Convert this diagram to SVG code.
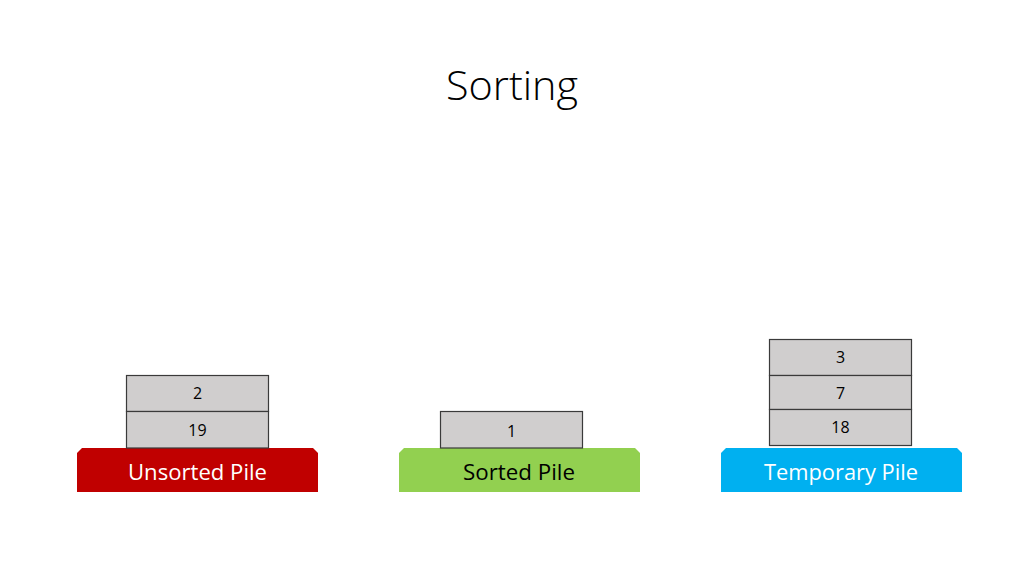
<svg xmlns="http://www.w3.org/2000/svg" width="1024" height="576" viewBox="0 0 1024 576">
<style>
.box{fill:#D0CECE;stroke:#3A3A3A;stroke-width:1.2}
.num{font-family:"Open Sans","Noto Sans",sans-serif;font-size:16px;fill:#000;text-anchor:middle}
.lbl{font-family:"Open Sans","Noto Sans",sans-serif;font-size:21px;text-anchor:middle}
.title{font-family:"Open Sans","Noto Sans",sans-serif;font-weight:300;font-size:40px;fill:#000;text-anchor:middle}
</style>
<rect width="1024" height="576" fill="#fff"/>
<text class="title" x="512" y="100" textLength="132" lengthAdjust="spacingAndGlyphs">Sorting</text>
<g id="unsorted-pile">
<path d="M77,492 V453 L82,448 H313 L318,453 V492 Z" fill="#C00000"/>
<text class="lbl" x="197.5" y="480" fill="#fff" textLength="139" lengthAdjust="spacingAndGlyphs">Unsorted Pile</text>
</g>
<g id="sorted-pile">
<path d="M399,492 V453 L404,448 H635 L640,453 V492 Z" fill="#92D050"/>
<text class="lbl" x="519" y="480" fill="#000" textLength="112" lengthAdjust="spacingAndGlyphs">Sorted Pile</text>
</g>
<g id="temporary-pile">
<path d="M721,492 V453 L726,448 H957 L962,453 V492 Z" fill="#00B0F0"/>
<text class="lbl" x="841" y="480" fill="#fff" textLength="154" lengthAdjust="spacingAndGlyphs">Temporary Pile</text>
</g>
<g id="card-2"><rect class="box" x="126.5" y="375.5" width="142" height="36"/><text class="num" x="197.5" y="399">2</text></g>
<g id="card-19"><rect class="box" x="126.5" y="411.5" width="142" height="36.5"/><text class="num" x="197.5" y="436">19</text></g>
<g id="card-1"><rect class="box" x="440.5" y="411.5" width="142" height="36.5"/><text class="num" x="511.5" y="437">1</text></g>
<g id="card-3"><rect class="box" x="769.5" y="339.5" width="142" height="36"/><text class="num" x="840.5" y="363">3</text></g>
<g id="card-7"><rect class="box" x="769.5" y="375.5" width="142" height="34"/><text class="num" x="840.5" y="399">7</text></g>
<g id="card-18"><rect class="box" x="769.5" y="409.5" width="142" height="36"/><text class="num" x="840.5" y="433">18</text></g>
<g id="connectors"></g>
</svg>
